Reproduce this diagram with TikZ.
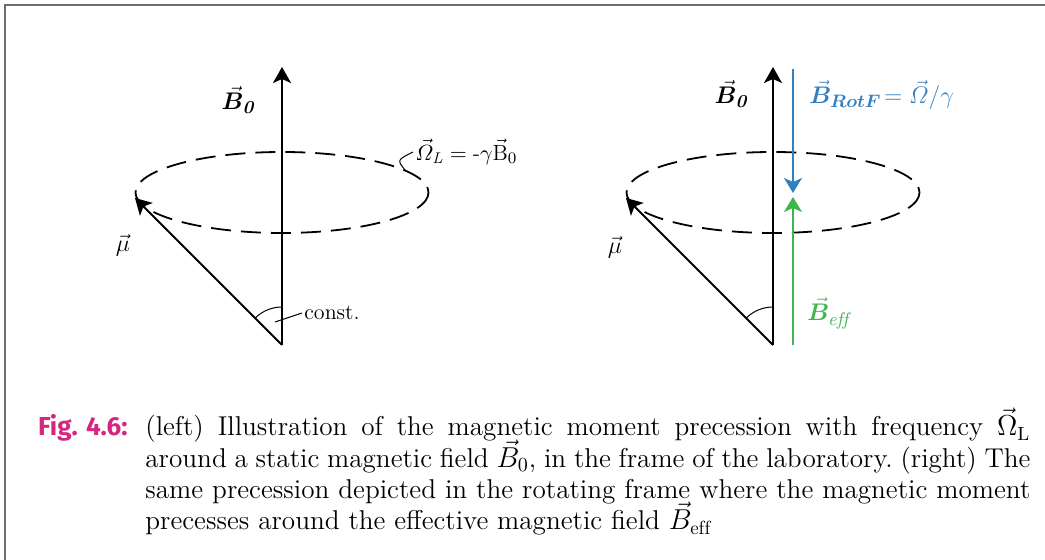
\documentclass[tikz,border=0pt]{standalone}
\usepackage{amsmath,bm}
\usepackage{fontspec}
\newfontfamily\figfont{Fira Sans}
\usetikzlibrary{arrows.meta}
\definecolor{rotblue}{RGB}{50,128,192}
\definecolor{effgreen}{RGB}{62,182,78}
\definecolor{figmagenta}{RGB}{214,38,128}
\definecolor{framegray}{RGB}{110,110,110}
\tikzset{
    fieldvec/.style={-{Stealth[length=8pt,width=9pt,inset=2pt]},line width=1pt},
    momentvec/.style={-{Stealth[length=8pt,width=9pt,inset=2pt]},line width=1pt},
    rotvec/.style={-{Stealth[length=7.5pt,width=9pt,inset=2pt]},line width=1pt,rotblue},
    effvec/.style={-{Stealth[length=7.5pt,width=9pt,inset=2pt]},line width=1pt,effgreen},
    orbit/.style={dash pattern=on 10pt off 5pt,line width=0.9pt},
    conearc/.style={line width=0.5pt},
    leader/.style={line width=0.5pt},
    veclabel/.style={font=\fontsize{13}{15}\selectfont,inner sep=0pt},
    smalllabel/.style={font=\fontsize{11}{13}\selectfont,inner sep=1pt},
    capline/.style={anchor=base west,inner sep=0pt,font=\frenchspacing\fontsize{13.6}{16}\selectfont}
}

\begin{document}
\begin{tikzpicture}[x=0.5pt,y=-0.5pt]
    \useasboundingbox (0,0) rectangle (1045,560);
    % Frame
    \draw[framegray,line width=1pt] (5,560) -- (5,5) -- (1045,5);

    % Left: laboratory frame
    \coordinate (lbase) at (282,345);
    \coordinate (ltip) at (282,67);
    \coordinate (lmu) at (135,198);
    \coordinate (lconstpt) at (275,322);
    \coordinate (lorbitpt) at (405,170);
    \draw[orbit] (282,192.5) ellipse [x radius=146.5, y radius=40.5];
    \draw[fieldvec] (lbase) -- (ltip);
    \draw[momentvec] (lbase) -- (lmu);
    \draw[conearc] (282,307) arc[start angle=270,end angle=225,radius=38];
    \node[veclabel] (lB0) at (238,100) {$\vec{\bm B}_{\text{\bfseries\itshape 0}}$};
    \node[veclabel] (lmulab) at (123,245) {$\vec\mu$};
    \node[smalllabel,anchor=west] (lconst) at (302,313) {const.};
    \draw[leader] (lconstpt) -- (lconst.west);
    \node[smalllabel,anchor=west] (lomega) at (413,152) {$\vec{\varOmega}_{\mathit L} = \text{-}\gamma\vec{\mathrm B}_0$};
    \draw[leader] (lorbitpt) .. controls (397,160) .. (lomega.west);

    % Right: rotating frame
    \begin{scope}[xshift=245.5pt]
        \coordinate (rbase) at (282,345);
        \coordinate (rtip) at (282,67);
        \coordinate (rmu) at (135,198);
        \coordinate (rottop) at (302,69);
        \coordinate (rotend) at (302,193);
        \coordinate (effbase) at (302,345);
        \coordinate (efftip) at (302,197);
        \draw[orbit] (282,192.5) ellipse [x radius=146.5, y radius=40.5];
        \draw[fieldvec] (rbase) -- (rtip);
        \draw[momentvec] (rbase) -- (rmu);
        \draw[conearc] (282,307) arc[start angle=270,end angle=225,radius=38];
        \draw[rotvec] (rottop) -- (rotend);
        \draw[effvec] (effbase) -- (efftip);
        \node[veclabel] (rB0) at (240,94) {$\vec{\bm B}_{\text{\bfseries\itshape 0}}$};
        \node[veclabel] (rmulab) at (124,247) {$\vec\mu$};
        \node[veclabel,text=rotblue,anchor=west] (rotlab) at (318,95) {$\vec{\bm B}_{\bm{RotF}}\!= \vec{\varOmega}/\gamma$};
        \node[veclabel,text=effgreen,anchor=west] (efflab) at (316,313) {$\vec{\bm B}_{\mathit{eff}}$};
    \end{scope}

    % Caption
    \node[anchor=base east,inner sep=0pt,font=\figfont\bfseries\fontsize{13}{16}\selectfont,text=figmagenta] (figtag) at (128,436) {Fig. 4.6:};
    \node[capline] (cap1) at (145,436) {\makebox[442.5pt][s]{(left) Illustration of the magnetic moment precession with frequency $\vec\Omega_{\mathrm L}$}};
    \node[capline] (cap2) at (145,467.3) {\makebox[442.5pt][s]{around a static magnetic field $\vec B_0$, in the frame of the laboratory. (right) The}};
    \node[capline] (cap3) at (145,498.6) {\makebox[442.5pt][s]{same precession depicted in the rotating frame where the magnetic moment}};
    \node[capline] (cap4) at (145,530) {precesses around the effective magnetic field $\vec B_{\mathrm{eff}}$};
\end{tikzpicture}
\end{document}
